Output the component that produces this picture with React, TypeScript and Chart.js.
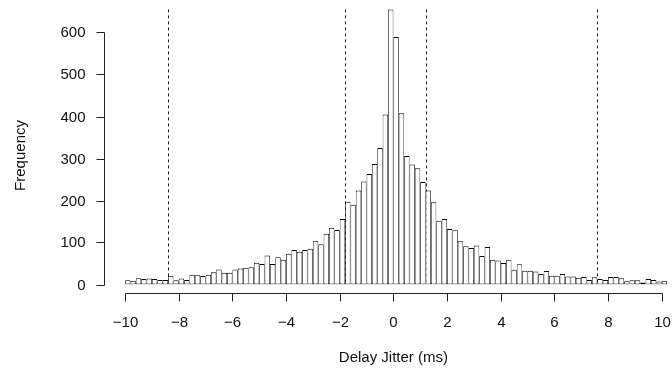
import React, { useEffect, useRef } from "react";
import { Chart, registerables } from "chart.js";

Chart.register(...registerables);

// Histogram counts, bins of width 0.2 starting at -10
const BIN_START = -10;
const BIN_WIDTH = 0.2;
const counts = [
  10, 9, 15, 13, 14, 13, 11, 11, 21, 10,
  14, 11, 23, 22, 20, 23, 29, 36, 28, 28,
  36, 38, 40, 41, 52, 49, 69, 49, 65, 59,
  73, 82, 78, 82, 85, 104, 96, 121, 135, 130,
  156, 197, 190, 224, 245, 263, 287, 325, 405, 655,
  589, 408, 306, 286, 277, 244, 224, 196, 152, 156,
  132, 129, 103, 91, 87, 93, 68, 89, 59, 57,
  51, 59, 35, 48, 33, 33, 31, 25, 32, 21,
  21, 25, 19, 19, 16, 18, 11, 17, 13, 11,
  18, 18, 15, 8, 10, 10, 5, 13, 11, 7,
  9,
];
const xTicks = [-10, -8, -6, -4, -2, 0, 2, 4, 6, 8, 10];
const yTicks = [0, 100, 200, 300, 400, 500, 600];
const cutoffs = [-8.4, -1.8, 1.2, 7.6];
const xTitle = "Delay Jitter (ms)";
const yTitle = "Frequency";

const FONT = '"Liberation Sans", Arial, Helvetica, sans-serif';

function fmt(v: number): string {
  return v < 0 ? "\u2212" + Math.abs(v) : String(v);
}

export default function App() {
  const ref = useRef<HTMLCanvasElement>(null);

  useEffect(() => {
    document.body.style.margin = "0";
    const canvas = ref.current;
    if (!canvas) return;
    const data = counts.map((c, i) => ({ x: BIN_START + BIN_WIDTH * (i + 0.5), y: c }));

    const rPlugin = {
      id: "rStyle",
      beforeDatasetsDraw(chart: any) {
        const { ctx, scales } = chart;
        const x = scales.x, y = scales.y;
        ctx.save();
        ctx.strokeStyle = "#222";
        ctx.lineWidth = 1;
        ctx.setLineDash([3, 3]);
        const top = y.getPixelForValue(655);
        const bot = y.getPixelForValue(0);
        cutoffs.forEach((c) => {
          const px = Math.round(x.getPixelForValue(c)) + 0.5;
          ctx.beginPath();
          ctx.moveTo(px, top);
          ctx.lineTo(px, bot);
          ctx.stroke();
        });
        ctx.restore();
      },
      afterDraw(chart: any) {
        const { ctx, scales, chartArea } = chart;
        const x = scales.x, y = scales.y;
        ctx.save();
        ctx.strokeStyle = "#222";
        ctx.lineWidth = 1;
        ctx.fillStyle = "#111";
        ctx.font = "15px " + FONT;

        // y axis
        const ax = Math.round(chartArea.left) + 0.5;
        const y0 = Math.round(y.getPixelForValue(yTicks[0])) + 0.5;
        const y1 = Math.round(y.getPixelForValue(yTicks[yTicks.length - 1])) + 0.5;
        ctx.beginPath();
        ctx.moveTo(ax, y0);
        ctx.lineTo(ax, y1);
        ctx.stroke();
        ctx.textAlign = "right";
        ctx.textBaseline = "middle";
        yTicks.forEach((t) => {
          const py = Math.round(y.getPixelForValue(t)) + 0.5;
          ctx.beginPath();
          ctx.moveTo(ax, py);
          ctx.lineTo(ax - 8, py);
          ctx.stroke();
          ctx.fillText(String(t), ax - 19, py + 0.5);
        });

        // x axis
        const ay = Math.round(chartArea.bottom + 8.5) + 0.5;
        const x0 = Math.round(x.getPixelForValue(xTicks[0])) + 0.5;
        const x1 = Math.round(x.getPixelForValue(xTicks[xTicks.length - 1])) + 0.5;
        ctx.beginPath();
        ctx.moveTo(x0, ay);
        ctx.lineTo(x1, ay);
        ctx.stroke();
        ctx.textAlign = "center";
        xTicks.forEach((t) => {
          const px = Math.round(x.getPixelForValue(t)) + 0.5;
          ctx.beginPath();
          ctx.moveTo(px, ay);
          ctx.lineTo(px, ay + 8);
          ctx.stroke();
          ctx.fillText(fmt(t), px, ay + 29);
        });

        // titles
        const cx = (x.getPixelForValue(xTicks[0]) + x.getPixelForValue(xTicks[xTicks.length - 1])) / 2;
        ctx.fillText(xTitle, cx, ay + 64);
        ctx.save();
        ctx.translate(21, (y0 + y.getPixelForValue(655)) / 2 + 8);
        ctx.rotate(-Math.PI / 2);
        ctx.fillText(yTitle, 0, 0);
        ctx.restore();
        ctx.restore();
      },
    };

    const chart = new Chart(canvas, {
      type: "bar",
      data: {
        datasets: [
          {
            data,
            backgroundColor: "#ffffff",
            borderColor: "#000",
            borderWidth: { top: 1, bottom: 1, left: 0.75, right: 0.75 },
            borderSkipped: false,
            inflateAmount: 0,
            barPercentage: 1,
            categoryPercentage: 1,
          } as any,
        ],
      },
      options: {
        animation: false,
        responsive: false,
        maintainAspectRatio: false,
        layout: { padding: { left: 103.64, right: 2.25, top: 3.1, bottom: 86.5 } },
        scales: {
          x: { type: "linear", min: -10.8, max: 10.3, offset: false, display: false },
          y: { min: 0, max: 670, display: false },
        },
        plugins: { legend: { display: false }, tooltip: { enabled: false } },
      },
      plugins: [rPlugin],
    });
    return () => chart.destroy();
  }, []);

  return (
    <div style={{ position: "absolute", left: 0, top: 0, width: 672, height: 371, background: "#fff" }}>
      <canvas ref={ref} width={672} height={371} style={{ display: "block", width: 672, height: 371 }} />
    </div>
  );
}
